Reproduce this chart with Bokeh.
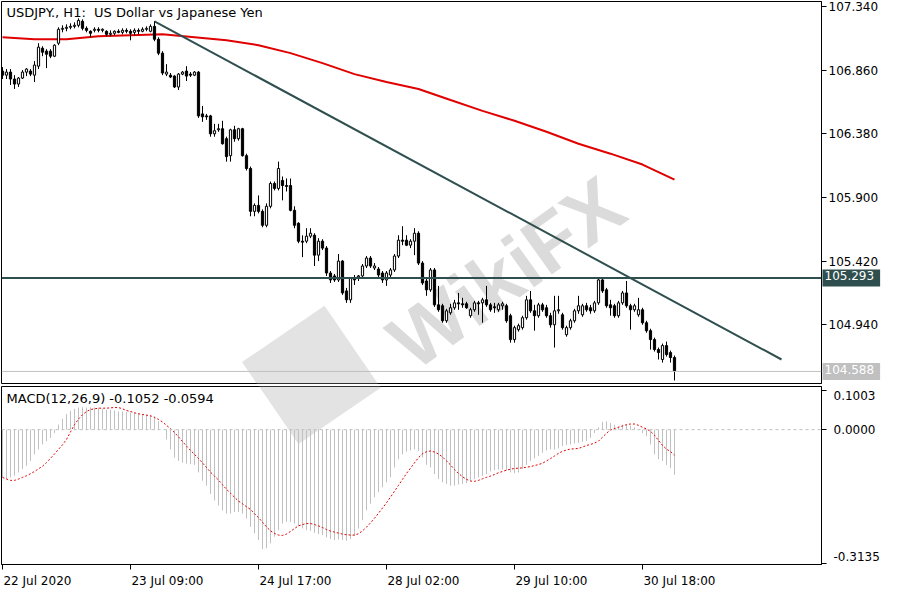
from bokeh.plotting import figure
from bokeh.layouts import column
from bokeh.models import Range1d, FixedTicker, PrintfTickFormatter, Span, Label
from bokeh.embed import file_html
from bokeh.resources import INLINE

# ---------------- data (H1 candles, USDJPY) ----------------
opens = [
    106.853, 106.822, 106.845, 106.793, 106.755, 106.800, 106.845, 106.853, 106.822, 106.890,
    107.025, 107.003, 107.003, 106.965, 107.063, 107.168, 107.175, 107.183, 107.190, 107.198,
    107.228, 107.175, 107.153, 107.160, 107.168, 107.160, 107.153, 107.130, 107.138, 107.153,
    107.145, 107.160, 107.153, 107.145, 107.160, 107.153, 107.168, 107.153, 107.190, 107.093,
    106.988, 106.830, 106.822, 106.815, 106.733, 106.830, 106.853, 106.830, 106.822, 106.845,
    106.530, 106.515, 106.515, 106.380, 106.410, 106.418, 106.343, 106.215, 106.410, 106.343,
    106.418, 106.215, 106.118, 105.795, 105.840, 105.795, 105.690, 105.833, 106.005, 105.968,
    106.028, 105.990, 105.990, 105.803, 105.705, 105.570, 105.570, 105.608, 105.615, 105.465,
    105.570, 105.518, 105.330, 105.308, 105.278, 105.420, 105.195, 105.128, 105.293, 105.300,
    105.308, 105.383, 105.443, 105.368, 105.360, 105.330, 105.278, 105.315, 105.353, 105.458,
    105.578, 105.578, 105.540, 105.570, 105.630, 105.405, 105.270, 105.203, 105.353, 105.090,
    105.083, 104.970, 105.030, 105.068, 105.105, 105.098, 105.098, 105.008, 105.053, 105.105,
    105.105, 105.128, 105.090, 105.075, 105.053, 105.083, 105.083, 105.008, 104.828, 104.903,
    104.918, 104.993, 105.128, 105.045, 105.008, 105.090, 105.068, 105.008, 104.940, 105.045,
    105.015, 104.865, 104.918, 104.970, 105.045, 105.015, 105.083, 105.068, 105.045, 105.105,
    105.278, 105.203, 105.090, 105.083, 105.008, 105.105, 105.180, 105.083, 105.053, 105.015,
    105.053, 104.955, 104.895, 104.828, 104.753, 104.678, 104.783, 104.730, 104.693,
]
closes = [
    106.822, 106.845, 106.793, 106.755, 106.800, 106.845, 106.868, 106.830, 106.898, 107.033,
    106.995, 106.980, 106.965, 107.048, 107.168, 107.175, 107.183, 107.190, 107.198, 107.235,
    107.175, 107.160, 107.138, 107.168, 107.160, 107.168, 107.130, 107.138, 107.153, 107.145,
    107.160, 107.153, 107.138, 107.160, 107.153, 107.168, 107.175, 107.190, 107.093, 106.988,
    106.838, 106.845, 106.808, 106.733, 106.830, 106.845, 106.815, 106.822, 106.845, 106.515,
    106.508, 106.508, 106.380, 106.403, 106.418, 106.305, 106.208, 106.410, 106.343, 106.418,
    106.215, 106.118, 105.795, 105.840, 105.795, 105.690, 105.833, 106.005, 105.968, 106.118,
    105.990, 105.983, 105.803, 105.690, 105.570, 105.563, 105.608, 105.630, 105.465, 105.570,
    105.518, 105.330, 105.278, 105.278, 105.420, 105.180, 105.128, 105.293, 105.278, 105.308,
    105.383, 105.443, 105.383, 105.383, 105.315, 105.278, 105.330, 105.353, 105.458, 105.578,
    105.570, 105.540, 105.570, 105.630, 105.405, 105.255, 105.203, 105.353, 105.090, 105.053,
    104.970, 105.045, 105.068, 105.105, 105.098, 105.090, 105.068, 105.053, 105.105, 105.098,
    105.128, 105.090, 105.053, 105.068, 105.090, 105.098, 104.970, 104.828, 104.918, 104.933,
    104.993, 105.128, 105.045, 105.008, 105.090, 105.053, 105.008, 104.940, 105.045, 105.053,
    104.918, 104.918, 104.970, 105.045, 105.083, 105.083, 105.053, 105.045, 105.105, 105.278,
    105.195, 105.083, 105.068, 105.008, 105.105, 105.180, 105.083, 105.053, 105.083, 105.053,
    104.955, 104.895, 104.828, 104.753, 104.730, 104.783, 104.715, 104.693, 104.588,
]
highs = [
    106.883, 106.868, 106.868, 106.822, 106.808, 106.860, 106.875, 106.868, 106.928, 107.063,
    107.040, 107.018, 107.018, 107.055, 107.183, 107.198, 107.205, 107.213, 107.220, 107.250,
    107.243, 107.190, 107.160, 107.183, 107.183, 107.175, 107.160, 107.160, 107.160, 107.168,
    107.175, 107.175, 107.168, 107.175, 107.175, 107.183, 107.190, 107.205, 107.228, 107.108,
    107.003, 106.905, 106.838, 106.822, 106.838, 106.853, 106.890, 106.845, 106.853, 106.853,
    106.590, 106.530, 106.523, 106.455, 106.455, 106.478, 106.358, 106.418, 106.440, 106.425,
    106.425, 106.230, 106.133, 105.855, 105.915, 105.810, 105.855, 106.020, 106.020, 106.170,
    106.058, 106.043, 106.043, 105.833, 105.713, 105.615, 105.668, 105.668, 105.630, 105.593,
    105.585, 105.533, 105.345, 105.323, 105.473, 105.428, 105.218, 105.300, 105.315, 105.315,
    105.398, 105.458, 105.458, 105.405, 105.375, 105.345, 105.345, 105.368, 105.473, 105.615,
    105.683, 105.615, 105.585, 105.668, 105.645, 105.420, 105.293, 105.368, 105.368, 105.233,
    105.098, 105.060, 105.098, 105.128, 105.180, 105.143, 105.113, 105.068, 105.120, 105.120,
    105.143, 105.233, 105.105, 105.105, 105.105, 105.113, 105.098, 105.023, 104.933, 104.948,
    105.008, 105.158, 105.195, 105.090, 105.105, 105.105, 105.090, 105.030, 105.158, 105.158,
    105.030, 104.933, 104.985, 105.060, 105.158, 105.098, 105.105, 105.090, 105.120, 105.293,
    105.293, 105.218, 105.128, 105.098, 105.120, 105.195, 105.270, 105.098, 105.098, 105.143,
    105.068, 104.970, 104.910, 104.843, 104.768, 104.798, 104.813, 104.745, 104.708,
]
lows = [
    106.793, 106.793, 106.748, 106.718, 106.733, 106.793, 106.815, 106.815, 106.770, 106.868,
    106.965, 106.875, 106.950, 106.958, 107.048, 107.145, 107.153, 107.168, 107.175, 107.183,
    107.160, 107.145, 107.108, 107.145, 107.145, 107.145, 107.115, 107.115, 107.123, 107.138,
    107.130, 107.138, 107.085, 107.123, 107.130, 107.145, 107.153, 107.145, 107.078, 106.973,
    106.822, 106.815, 106.800, 106.725, 106.710, 106.822, 106.778, 106.808, 106.815, 106.500,
    106.470, 106.485, 106.358, 106.358, 106.395, 106.298, 106.170, 106.170, 106.320, 106.328,
    106.208, 106.103, 105.758, 105.758, 105.780, 105.675, 105.675, 105.818, 105.953, 105.953,
    105.878, 105.945, 105.795, 105.668, 105.555, 105.450, 105.555, 105.593, 105.383, 105.420,
    105.503, 105.308, 105.255, 105.263, 105.263, 105.165, 105.105, 105.105, 105.240, 105.270,
    105.293, 105.368, 105.368, 105.353, 105.300, 105.255, 105.233, 105.300, 105.338, 105.443,
    105.540, 105.533, 105.518, 105.465, 105.390, 105.240, 105.158, 105.188, 105.075, 105.038,
    104.955, 104.955, 105.015, 105.053, 105.053, 105.068, 105.060, 104.993, 105.038, 105.015,
    104.955, 105.075, 105.038, 105.030, 105.038, 105.053, 104.955, 104.805, 104.805, 104.888,
    104.903, 104.978, 105.030, 104.895, 104.993, 105.038, 104.993, 104.918, 104.768, 105.023,
    104.903, 104.850, 104.903, 104.955, 105.023, 105.000, 105.038, 105.023, 105.030, 105.090,
    105.180, 105.068, 105.008, 104.993, 104.993, 105.090, 105.068, 104.903, 105.038, 105.000,
    104.940, 104.880, 104.753, 104.738, 104.678, 104.655, 104.700, 104.655, 104.520,
]

# 200-period moving average (read every 8 bars)
ma_bars = [0, 8, 16, 24, 32, 40, 48, 56, 64, 72, 80, 88, 96, 104, 112, 120, 128, 136, 144, 152, 160, 168]
ma_vals = [107.108, 107.093, 107.093, 107.115, 107.123, 107.130, 107.108, 107.085, 107.048, 106.988,
           106.913, 106.830, 106.770, 106.718, 106.635, 106.553, 106.478, 106.395, 106.305, 106.230,
           106.148, 106.035]

# trend line (bar index, price)
trend_x = [38, 194.75]
trend_y = [107.228, 104.678]
level_price = 105.293
bid_price = 104.588

price_ticks = [104.940, 105.420, 105.900, 106.380, 106.860, 107.340]

# MACD(12,26,9): main (histogram) and signal
macd = [
    -0.1110, -0.1149, -0.1110, -0.1072, -0.0995, -0.0918, -0.0840, -0.0727, -0.0574, -0.0459,
    -0.0344, -0.0268, -0.0191, -0.0076, 0.0116, 0.0254, 0.0361, 0.0438, 0.0484, 0.0514,
    0.0522, 0.0514, 0.0514, 0.0514, 0.0514, 0.0484, 0.0461, 0.0461, 0.0445, 0.0422,
    0.0422, 0.0407, 0.0399, 0.0399, 0.0384, 0.0369, 0.0346, 0.0330, 0.0307, 0.0192,
    0.0001, -0.0229, -0.0459, -0.0651, -0.0727, -0.0766, -0.0789, -0.0804, -0.0819, -0.0995,
    -0.1187, -0.1302, -0.1494, -0.1647, -0.1762, -0.1877, -0.1953, -0.1953, -0.1915, -0.1915,
    -0.1953, -0.2068, -0.2260, -0.2413, -0.2566, -0.2781, -0.2758, -0.2643, -0.2490, -0.2336,
    -0.2183, -0.2145, -0.2145, -0.2183, -0.2244, -0.2298, -0.2336, -0.2352, -0.2398, -0.2428,
    -0.2451, -0.2505, -0.2543, -0.2566, -0.2551, -0.2566, -0.2582, -0.2543, -0.2474, -0.2298,
    -0.2107, -0.1877, -0.1724, -0.1570, -0.1455, -0.1340, -0.1226, -0.1110, -0.0880, -0.0689,
    -0.0574, -0.0512, -0.0482, -0.0459, -0.0497, -0.0651, -0.0819, -0.0880, -0.1034, -0.1149,
    -0.1226, -0.1263, -0.1302, -0.1302, -0.1279, -0.1263, -0.1248, -0.1187, -0.1149, -0.1110,
    -0.1072, -0.1034, -0.0972, -0.0942, -0.0926, -0.0926, -0.0957, -0.0995, -0.1011, -0.0995,
    -0.0918, -0.0819, -0.0727, -0.0666, -0.0612, -0.0536, -0.0482, -0.0459, -0.0459, -0.0436,
    -0.0382, -0.0359, -0.0344, -0.0321, -0.0306, -0.0283, -0.0268, -0.0191, -0.0076, 0.0054,
    0.0177, 0.0192, 0.0154, 0.0116, 0.0077, 0.0116, 0.0116, 0.0093, 0.0054, 0.0000,
    -0.0076, -0.0153, -0.0344, -0.0574, -0.0689, -0.0727, -0.0819, -0.0896, -0.1052,
]
signal = [
    -0.1110, -0.1149, -0.1179, -0.1179, -0.1149, -0.1110, -0.1072, -0.1026, -0.0972, -0.0911,
    -0.0850, -0.0766, -0.0666, -0.0566, -0.0459, -0.0352, -0.0229, -0.0053, 0.0116, 0.0246,
    0.0346, 0.0422, 0.0468, 0.0484, 0.0499, 0.0499, 0.0499, 0.0507, 0.0514, 0.0514,
    0.0484, 0.0445, 0.0422, 0.0392, 0.0369, 0.0353, 0.0338, 0.0323, 0.0284, 0.0238,
    0.0177, 0.0100, 0.0024, -0.0068, -0.0168, -0.0275, -0.0383, -0.0482, -0.0574, -0.0673,
    -0.0773, -0.0880, -0.0988, -0.1080, -0.1172, -0.1279, -0.1387, -0.1478, -0.1570, -0.1662,
    -0.1724, -0.1792, -0.1853, -0.1953, -0.2045, -0.2152, -0.2260, -0.2352, -0.2413, -0.2451,
    -0.2459, -0.2428, -0.2367, -0.2298, -0.2237, -0.2206, -0.2183, -0.2183, -0.2206, -0.2237,
    -0.2275, -0.2321, -0.2359, -0.2382, -0.2405, -0.2428, -0.2444, -0.2451, -0.2451, -0.2420,
    -0.2352, -0.2267, -0.2168, -0.2060, -0.1945, -0.1823, -0.1700, -0.1570, -0.1432, -0.1294,
    -0.1156, -0.1018, -0.0896, -0.0773, -0.0650, -0.0559, -0.0512, -0.0497, -0.0520, -0.0566,
    -0.0635, -0.0727, -0.0819, -0.0926, -0.1018, -0.1095, -0.1156, -0.1195, -0.1202, -0.1179,
    -0.1141, -0.1110, -0.1080, -0.1041, -0.1003, -0.0972, -0.0942, -0.0918, -0.0904, -0.0896,
    -0.0888, -0.0873, -0.0858, -0.0835, -0.0812, -0.0781, -0.0727, -0.0673, -0.0612, -0.0551,
    -0.0505, -0.0474, -0.0451, -0.0444, -0.0436, -0.0405, -0.0367, -0.0344, -0.0313, -0.0267,
    -0.0175, -0.0083, -0.0007, 0.0024, 0.0054, 0.0085, 0.0116, 0.0131, 0.0131, 0.0100,
    0.0054, 0.0016, -0.0038, -0.0130, -0.0252, -0.0367, -0.0451, -0.0512, -0.0594,
]
macd_top = 0.1003
macd_bottom = -0.3135

date_ticks = [0, 32, 64, 96, 128, 160]
date_labels = ["22 Jul 2020", "23 Jul 09:00", "24 Jul 17:00", "28 Jul 02:00", "29 Jul 10:00", "30 Jul 18:00"]

# ---------------- derived ----------------
bars = list(range(len(closes)))
up_x = [i for i in bars if closes[i] >= opens[i]]
dn_x = [i for i in bars if closes[i] < opens[i]]
def top_of(i): return max(opens[i], closes[i])
def bot_of(i): return min(opens[i], closes[i])

FONT = "DejaVu Sans"
AXIS_PX = 12
PX_PER_BAR = 4.0
XR = Range1d(-0.25, 204.75)

_W = {" ": 0.318, "J": 0.295, "u": 0.634, "l": 0.278, ":": 0.337}
def text_px(s, size):
    return sum(_W.get(ch, 0.636) for ch in s) * size

# ---------------- price panel ----------------
P_TOP = 107.3775
P_BOT = 104.497
p1 = figure(frame_width=820, frame_height=382, x_range=XR, y_range=Range1d(P_BOT, P_TOP),
            y_axis_location="right", x_axis_location=None, toolbar_location=None,
            output_backend="svg", min_border_left=1, min_border_right=63,
            min_border_top=1, min_border_bottom=2, outline_line_color="black",
            background_fill_color="white", border_fill_color="white")
p1.grid.visible = False
ya = p1.yaxis[0]
ya.ticker = FixedTicker(ticks=price_ticks)
ya.formatter = PrintfTickFormatter(format="%.3f")
ya.major_tick_out = 5
ya.major_tick_in = 0
ya.minor_tick_out = 0
ya.minor_tick_in = 0
ya.axis_line_color = "black"
ya.major_label_standoff = 2
ya.major_label_text_font = FONT
ya.major_label_text_font_size = f"{AXIS_PX}px"
ya.major_label_text_color = "black"

# watermark
p1.rect(x=[77.25], y=[104.56], width=100, height=100, width_units="screen", height_units="screen",
        angle=0.6, fill_color="#c8c8c8", fill_alpha=0.5, line_color=None, level="underlay")
p1.add_layout(Label(x=126, y=105.33, text="WikiFX", angle=0.62, text_align="center",
                    text_baseline="middle", text_font="Liberation Sans", text_font_size="80px",
                    text_font_style="bold", text_color="#bdbdbd", text_alpha=0.55, level="underlay"))

p1.add_layout(Span(location=bid_price, dimension="width", line_color="#c0c0c0", line_width=1))
p1.add_layout(Span(location=level_price, dimension="width", line_color="#2f4f4f", line_width=2))
p1.line(ma_bars, ma_vals, line_color="#e00000", line_width=2)
p1.line(trend_x, trend_y, line_color="#2f4f4f", line_width=2)

p1.segment(x0=bars, y0=lows, x1=bars, y1=highs, line_color="black", line_width=1)
p1.vbar(x=up_x, top=[top_of(i) for i in up_x], bottom=[bot_of(i) for i in up_x], width=0.55,
        fill_color="white", line_color="black", line_width=1)
p1.vbar(x=dn_x, top=[top_of(i) for i in dn_x], bottom=[bot_of(i) for i in dn_x], width=0.55,
        fill_color="black", line_color="black", line_width=1)

p1.add_layout(Label(x=-0.25, y=P_TOP, x_offset=5, y_offset=-3,
                    text="USDJPY., H1:\u00a0 US Dollar vs Japanese Yen",
                    text_baseline="top", text_align="left", text_font=FONT, text_font_size="13px",
                    text_color="black"))

# price tags at the right edge of the price panel (placed in the right side panel)
def add_tag(price, bg):
    kw = dict(x=204.75, y=price, x_offset=1, text=f"{price:.3f}", text_align="left",
              text_baseline="middle", text_font=FONT, text_font_size=f"{AXIS_PX}px",
              text_color="white", background_fill_color=bg)
    try:
        lab = Label(padding=(2, 6, 2, 6), **kw)
    except Exception:
        lab = Label(padding=4, **kw)
    p1.add_layout(lab, "right")

add_tag(level_price, "#2f4f4f")
add_tag(bid_price, "#c0c0c0")

# ---------------- MACD panel ----------------
M_FRAME = 178
m_scale = M_FRAME / (macd_top - macd_bottom)
p2 = figure(frame_width=820, frame_height=M_FRAME, x_range=XR, y_range=Range1d(macd_bottom, macd_top),
            y_axis_location="right", toolbar_location=None, output_backend="svg",
            min_border_left=1, min_border_right=63, min_border_top=1, min_border_bottom=20,
            outline_line_color="black", background_fill_color="white", border_fill_color="white")
p2.grid.visible = False
p2.rect(x=[77.25], y=[macd_top + 12 / m_scale], width=100, height=100, width_units="screen",
        height_units="screen", angle=0.6, fill_color="#c8c8c8", fill_alpha=0.5, line_color=None,
        level="underlay")
p2.add_layout(Span(location=0, dimension="width", line_color="#c0c0c0", line_dash="3 3", line_width=1))
p2.segment(x0=bars, y0=[0] * len(bars), x1=bars, y1=macd, line_color="#c0c0c0", line_width=1)
p2.line(bars, signal, line_color="#e00000", line_dash="2 2", line_width=1)

lab_top = macd_top - 9 / m_scale
lab_bot = macd_bottom + 8 / m_scale
ya2 = p2.yaxis[0]
ya2.ticker = FixedTicker(ticks=[lab_top, 0.0, lab_bot],
                         minor_ticks=[macd_top - 4 / m_scale, 0.0, macd_bottom + 1 / m_scale])
ya2.major_label_overrides = {lab_top: f"{macd_top:.4f}", 0.0: "0.0000", lab_bot: f"{macd_bottom:.4f}"}
ya2.major_tick_out = 0
ya2.major_tick_in = 0
ya2.minor_tick_out = 5
ya2.minor_tick_in = 0
ya2.axis_line_color = "black"
ya2.major_label_standoff = 7
ya2.major_label_text_font = FONT
ya2.major_label_text_font_size = f"{AXIS_PX}px"
ya2.major_label_text_color = "black"

lab_pos = [t + (text_px(s, AXIS_PX) / 2 + 1) / PX_PER_BAR for t, s in zip(date_ticks, date_labels)]
xa = p2.xaxis[0]
xa.ticker = FixedTicker(ticks=lab_pos, minor_ticks=date_ticks)
xa.major_label_overrides = {pos: s for pos, s in zip(lab_pos, date_labels)}
xa.major_tick_out = 0
xa.major_tick_in = 0
xa.minor_tick_out = 5
xa.minor_tick_in = 0
xa.axis_line_color = "black"
xa.major_label_standoff = 4
xa.major_label_text_font = FONT
xa.major_label_text_font_size = f"{AXIS_PX}px"
xa.major_label_text_color = "black"

p2.add_layout(Label(x=-0.25, y=macd_top, x_offset=5, y_offset=-4, text="MACD(12,26,9) -0.1052 -0.0594",
                    text_baseline="top", text_align="left", text_font=FONT, text_font_size="13px",
                    text_color="black"))

layout = column(p1, p2, spacing=0)
open("out.html", "w").write(file_html(layout, INLINE))
